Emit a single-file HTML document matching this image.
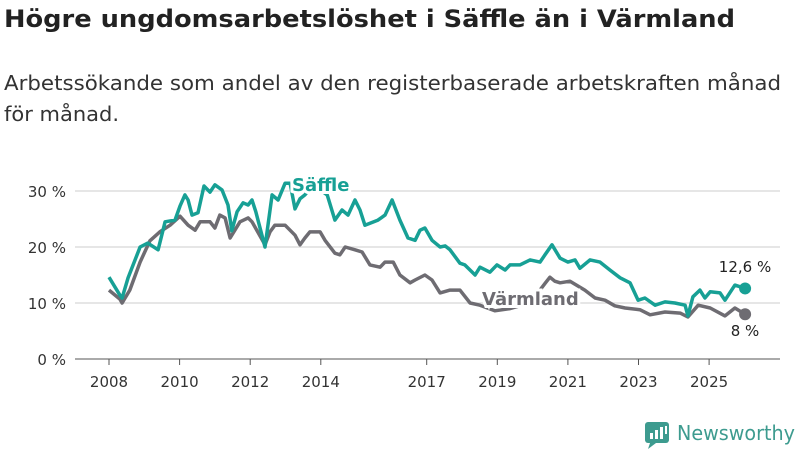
<!DOCTYPE html>
<html><head><meta charset="utf-8"><style>
body{margin:0;background:#fff;width:800px;height:450px;overflow:hidden;font-family:"DejaVu Sans","Liberation Sans",sans-serif;}
</style></head><body>
<svg width="800" height="450" viewBox="0 0 800 450" xmlns="http://www.w3.org/2000/svg" font-family="DejaVu Sans, Liberation Sans, sans-serif">
<text x="4" y="27" font-size="24" font-weight="bold" fill="#222" textLength="731" lengthAdjust="spacingAndGlyphs">Högre ungdomsarbetslöshet i Säffle än i Värmland</text>
<text x="4" y="90" font-size="20" fill="#333" textLength="777" lengthAdjust="spacingAndGlyphs">Arbetssökande som andel av den registerbaserade arbetskraften månad</text>
<text x="4" y="121" font-size="20" fill="#333" textLength="115" lengthAdjust="spacingAndGlyphs">för månad.</text>
<g id="grid"></g><g id="xaxis"></g><g id="lines"></g><g id="labels"></g>
<g>
<rect x="645" y="422" width="24" height="21" rx="3" fill="#3d9b8f"/>
<path d="M650 443 L648 449 L656 443 Z" fill="#3d9b8f"/>
<rect x="650" y="433" width="3" height="6" fill="#fff"/><rect x="655" y="430" width="3" height="9" fill="#fff"/><rect x="660" y="427" width="3" height="12" fill="#fff"/><rect x="665" y="426" width="2" height="8" fill="#fff"/>
<text x="677" y="440" font-size="20" fill="#3d9b8f" textLength="118" lengthAdjust="spacingAndGlyphs">Newsworthy</text>
</g>
</svg>
<script>
const yTicks=[0,10,20,30];
const xTicks=[2008,2010,2012,2014,2017,2019,2021,2023,2025];
const saffleYears=[2008.00,2008.31,2008.37,2008.54,2008.88,2009.10,2009.39,2009.59,2009.87,2010.01,2010.15,2010.24,2010.35,2010.52,2010.69,2010.86,2011.00,2011.20,2011.37,2011.48,2011.63,2011.80,2011.94,2012.05,2012.16,2012.42,2012.62,2012.79,2012.99,2013.13,2013.27,2013.41,2013.55,2013.64,2013.92,2014.18,2014.40,2014.60,2014.77,2014.97,2015.11,2015.25,2015.62,2015.82,2016.02,2016.24,2016.47,2016.67,2016.81,2016.95,2017.15,2017.38,2017.52,2017.66,2017.94,2018.08,2018.37,2018.51,2018.79,2018.99,2019.22,2019.36,2019.64,2019.93,2020.21,2020.35,2020.55,2020.78,2021.00,2021.20,2021.34,2021.63,2021.91,2022.19,2022.48,2022.76,2022.99,2023.18,2023.47,2023.75,2024.03,2024.32,2024.40,2024.54,2024.74,2024.88,2025.03,2025.31,2025.45,2025.73,2026.02];
const saffleVals=[14.6,11.4,10.9,14.5,20,20.7,19.5,24.5,24.8,27.3,29.3,28.4,25.7,26.1,30.9,29.8,31.1,30.2,27.5,22.9,26.3,27.9,27.5,28.4,26.3,20,29.3,28.4,31.4,31.4,26.8,28.6,29.3,30,30.5,29.3,24.8,26.6,25.7,28.4,26.6,23.9,24.8,25.7,28.4,24.8,21.6,21.2,23.0,23.4,21.2,20,20.2,19.5,17.1,16.8,15,16.4,15.5,16.8,15.9,16.8,16.8,17.7,17.3,18.6,20.4,18.0,17.3,17.7,16.2,17.7,17.3,15.9,14.5,13.6,10.5,10.9,9.6,10.2,10,9.6,7.7,11.1,12.3,10.9,12,11.8,10.5,13.2,12.6];
const varmYears=[2008.00,2008.31,2008.37,2008.59,2008.88,2009.16,2009.44,2009.73,2010.01,2010.24,2010.44,2010.58,2010.86,2011.00,2011.14,2011.29,2011.43,2011.71,2011.94,2012.05,2012.42,2012.56,2012.70,2012.99,2013.27,2013.41,2013.55,2013.69,2013.98,2014.12,2014.40,2014.54,2014.69,2014.97,2015.17,2015.39,2015.68,2015.82,2016.05,2016.24,2016.53,2016.67,2016.95,2017.15,2017.38,2017.66,2017.94,2018.23,2018.51,2018.93,2019.36,2019.93,2020.35,2020.49,2020.63,2020.78,2021.06,2021.48,2021.77,2022.05,2022.33,2022.62,2023.04,2023.33,2023.75,2024.18,2024.40,2024.69,2025.03,2025.45,2025.73,2026.02];
const varmVals=[12.3,10.7,10.0,12.3,17.3,21.1,22.7,23.9,25.5,23.9,23.0,24.5,24.5,23.4,25.7,25.2,21.6,24.5,25.2,24.5,20.4,22.7,23.9,23.9,22.1,20.4,21.6,22.7,22.7,21.2,18.9,18.6,20,19.5,19.1,16.8,16.4,17.3,17.3,15,13.6,14.1,15,14.1,11.8,12.3,12.3,10,9.6,8.6,9.0,10,13.5,14.6,13.9,13.6,13.9,12.3,10.9,10.5,9.5,9.1,8.8,7.9,8.4,8.2,7.5,9.6,9.1,7.7,9.1,8.0];
const NS='http://www.w3.org/2000/svg';
const xs=y=>109+(y-2008)*35.3;
const ys=v=>359-v*5.6;
function mk(tag,attrs,parent){const e=document.createElementNS(NS,tag);for(const k in attrs)e.setAttribute(k,attrs[k]);document.getElementById(parent).appendChild(e);return e;}
yTicks.forEach(t=>{
 const l=mk('line',{x1:75,x2:780,y1:ys(t),y2:ys(t),stroke:t===0?'#555':'#ddd','stroke-width':t===0?1:1.5},'grid');
 
 
 const tx=mk('text',{x:66,y:ys(t)+6,'text-anchor':'end','font-size':15,fill:'#333'},'grid');tx.textContent=t+' %';
 
 
});
xTicks.forEach(t=>{
 const l=mk('line',{x1:xs(t),x2:xs(t),y1:359,y2:365,stroke:'#555'},'xaxis');
 
 
 const tx=mk('text',{x:xs(t),y:387,'text-anchor':'middle','font-size':15,fill:'#333'},'xaxis');tx.textContent=t;
 
 
});
function line(yrs,vals,color,name){
 const d=yrs.map((y,i)=>(i?'L':'M')+xs(y).toFixed(1)+' '+ys(vals[i]).toFixed(1)).join(' ');
 const p=mk('path',{d:d,fill:'none',stroke:color,'stroke-width':3.5,'stroke-linejoin':'round'},'lines');
 
 
 const n=yrs.length-1;
 const c=mk('circle',{cx:xs(yrs[n]),cy:ys(vals[n]),r:6,fill:color},'lines');
 
 
}
line(varmYears,varmVals,'#6e6c72','varmland');
line(saffleYears,saffleVals,'#17a095','saffle');
function label(x,y,txt,color,size,bold,name,anchor){
 const t=mk('text',{x:x,y:y,'font-size':size,'font-weight':bold?'bold':'normal',fill:color,stroke:'#fff','stroke-width':bold?6:0,'paint-order':'stroke','text-anchor':anchor||'start'},'labels');
 t.textContent=txt;
 
 
}
label(292,191,'Säffle','#17a095',18,true,'saffle-label');
label(482,305,'Värmland','#6e6c72',18,true,'varmland-label');
label(745,272,'12,6 %','#222',15,false,'saffle-end-value','middle');
label(745,336,'8 %','#222',15,false,'varmland-end-value','middle');
</script>
</body></html>
